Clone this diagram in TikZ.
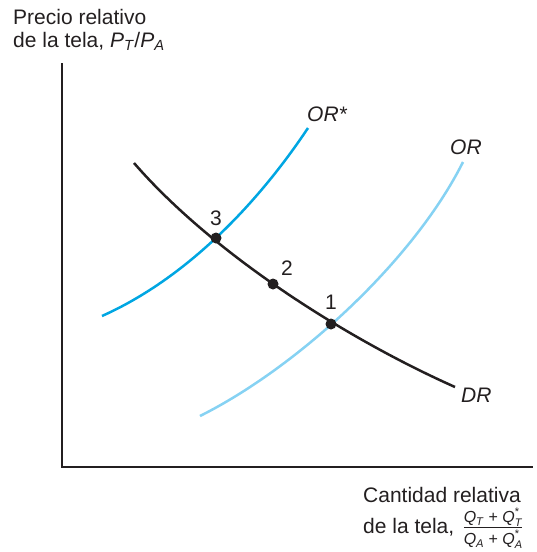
\documentclass[tikz,border=0pt]{standalone}
\usepackage{fontspec}
\setmainfont{Liberation Sans}
\definecolor{ink}{HTML}{231F20}
\definecolor{orstar}{HTML}{00A6E2}
\definecolor{orcol}{HTML}{86D2F3}
\newcommand{\sub}[1]{\textsubscript{\textit{#1}}}
\newcommand{\starsub}[1]{\raisebox{-3.5pt}{\fontsize{11}{11}\selectfont\shortstack[l]{*\\\textit{#1}}}}
\begin{document}
\begin{tikzpicture}[x=1pt,y=-1pt,
  lbl/.style={inner sep=0pt, font=\fontsize{21}{23}\selectfont, text=ink},
  curvelbl/.style={inner sep=0pt, font=\fontsize{21}{23}\selectfont\itshape, text=ink},
  eqdot/.style={circle, fill=ink, inner sep=0pt, minimum size=11pt},
  axis/.style={draw=ink, line width=2.8pt},
  curve/.style={line width=2.5pt}]
\useasboundingbox (0,0) rectangle (536,552);
% axes
\coordinate (top) at (62,63);
\coordinate (orig) at (62,467);
\coordinate (right) at (533,467);
\draw[axis, line join=miter] (top) -- (orig) -- (right);
% curves
\draw[curve, draw=orstar] (102,316) .. controls (187,278) and (258,203) .. (308,128);
\draw[curve, draw=orcol] (200,416) .. controls (298,367) and (414,260) .. (463,162);
\draw[curve, draw=ink] (134,163) .. controls (212,253) and (345,338) .. (455,387);
% equilibrium points
\node[eqdot] (p3) at (216,238) {};
\node[eqdot] (p2) at (273,284) {};
\node[eqdot] (p1) at (331,324) {};
\node[lbl] (n3) at (216,218) {3};
\node[lbl] (n2) at (287,268) {2};
\node[lbl] (n1) at (331,302) {1};
% curve labels
\node[curvelbl, anchor=base west] (lorstar) at (307,121) {OR*};
\node[curvelbl, anchor=base west] (lor) at (450,154) {OR};
\node[curvelbl, anchor=base west] (ldr) at (461,402) {DR};
% axis labels
\node[lbl, anchor=base west] (ylab1) at (13,24) {Precio relativo};
\node[lbl, anchor=base west] (ylab2) at (13,47) {de la tela, \textit{P}\sub{T}/\textit{P}\sub{A}};
\node[lbl, anchor=base west] (xlab1) at (363,502) {Cantidad relativa};
\node[lbl, anchor=base west] (xlab2) at (363,533) {de la tela,};
\node[inner sep=0pt, font=\fontsize{16}{18}\selectfont, text=ink, anchor=center] (frac) at (493,529)
  {\begin{tabular}{@{}c@{}}\textit{Q}\sub{T} + \textit{Q}\starsub{T}\\[-1pt]\hline\rule{0pt}{17pt}\textit{Q}\sub{A} + \textit{Q}\starsub{A}\end{tabular}};
\end{tikzpicture}
\end{document}
